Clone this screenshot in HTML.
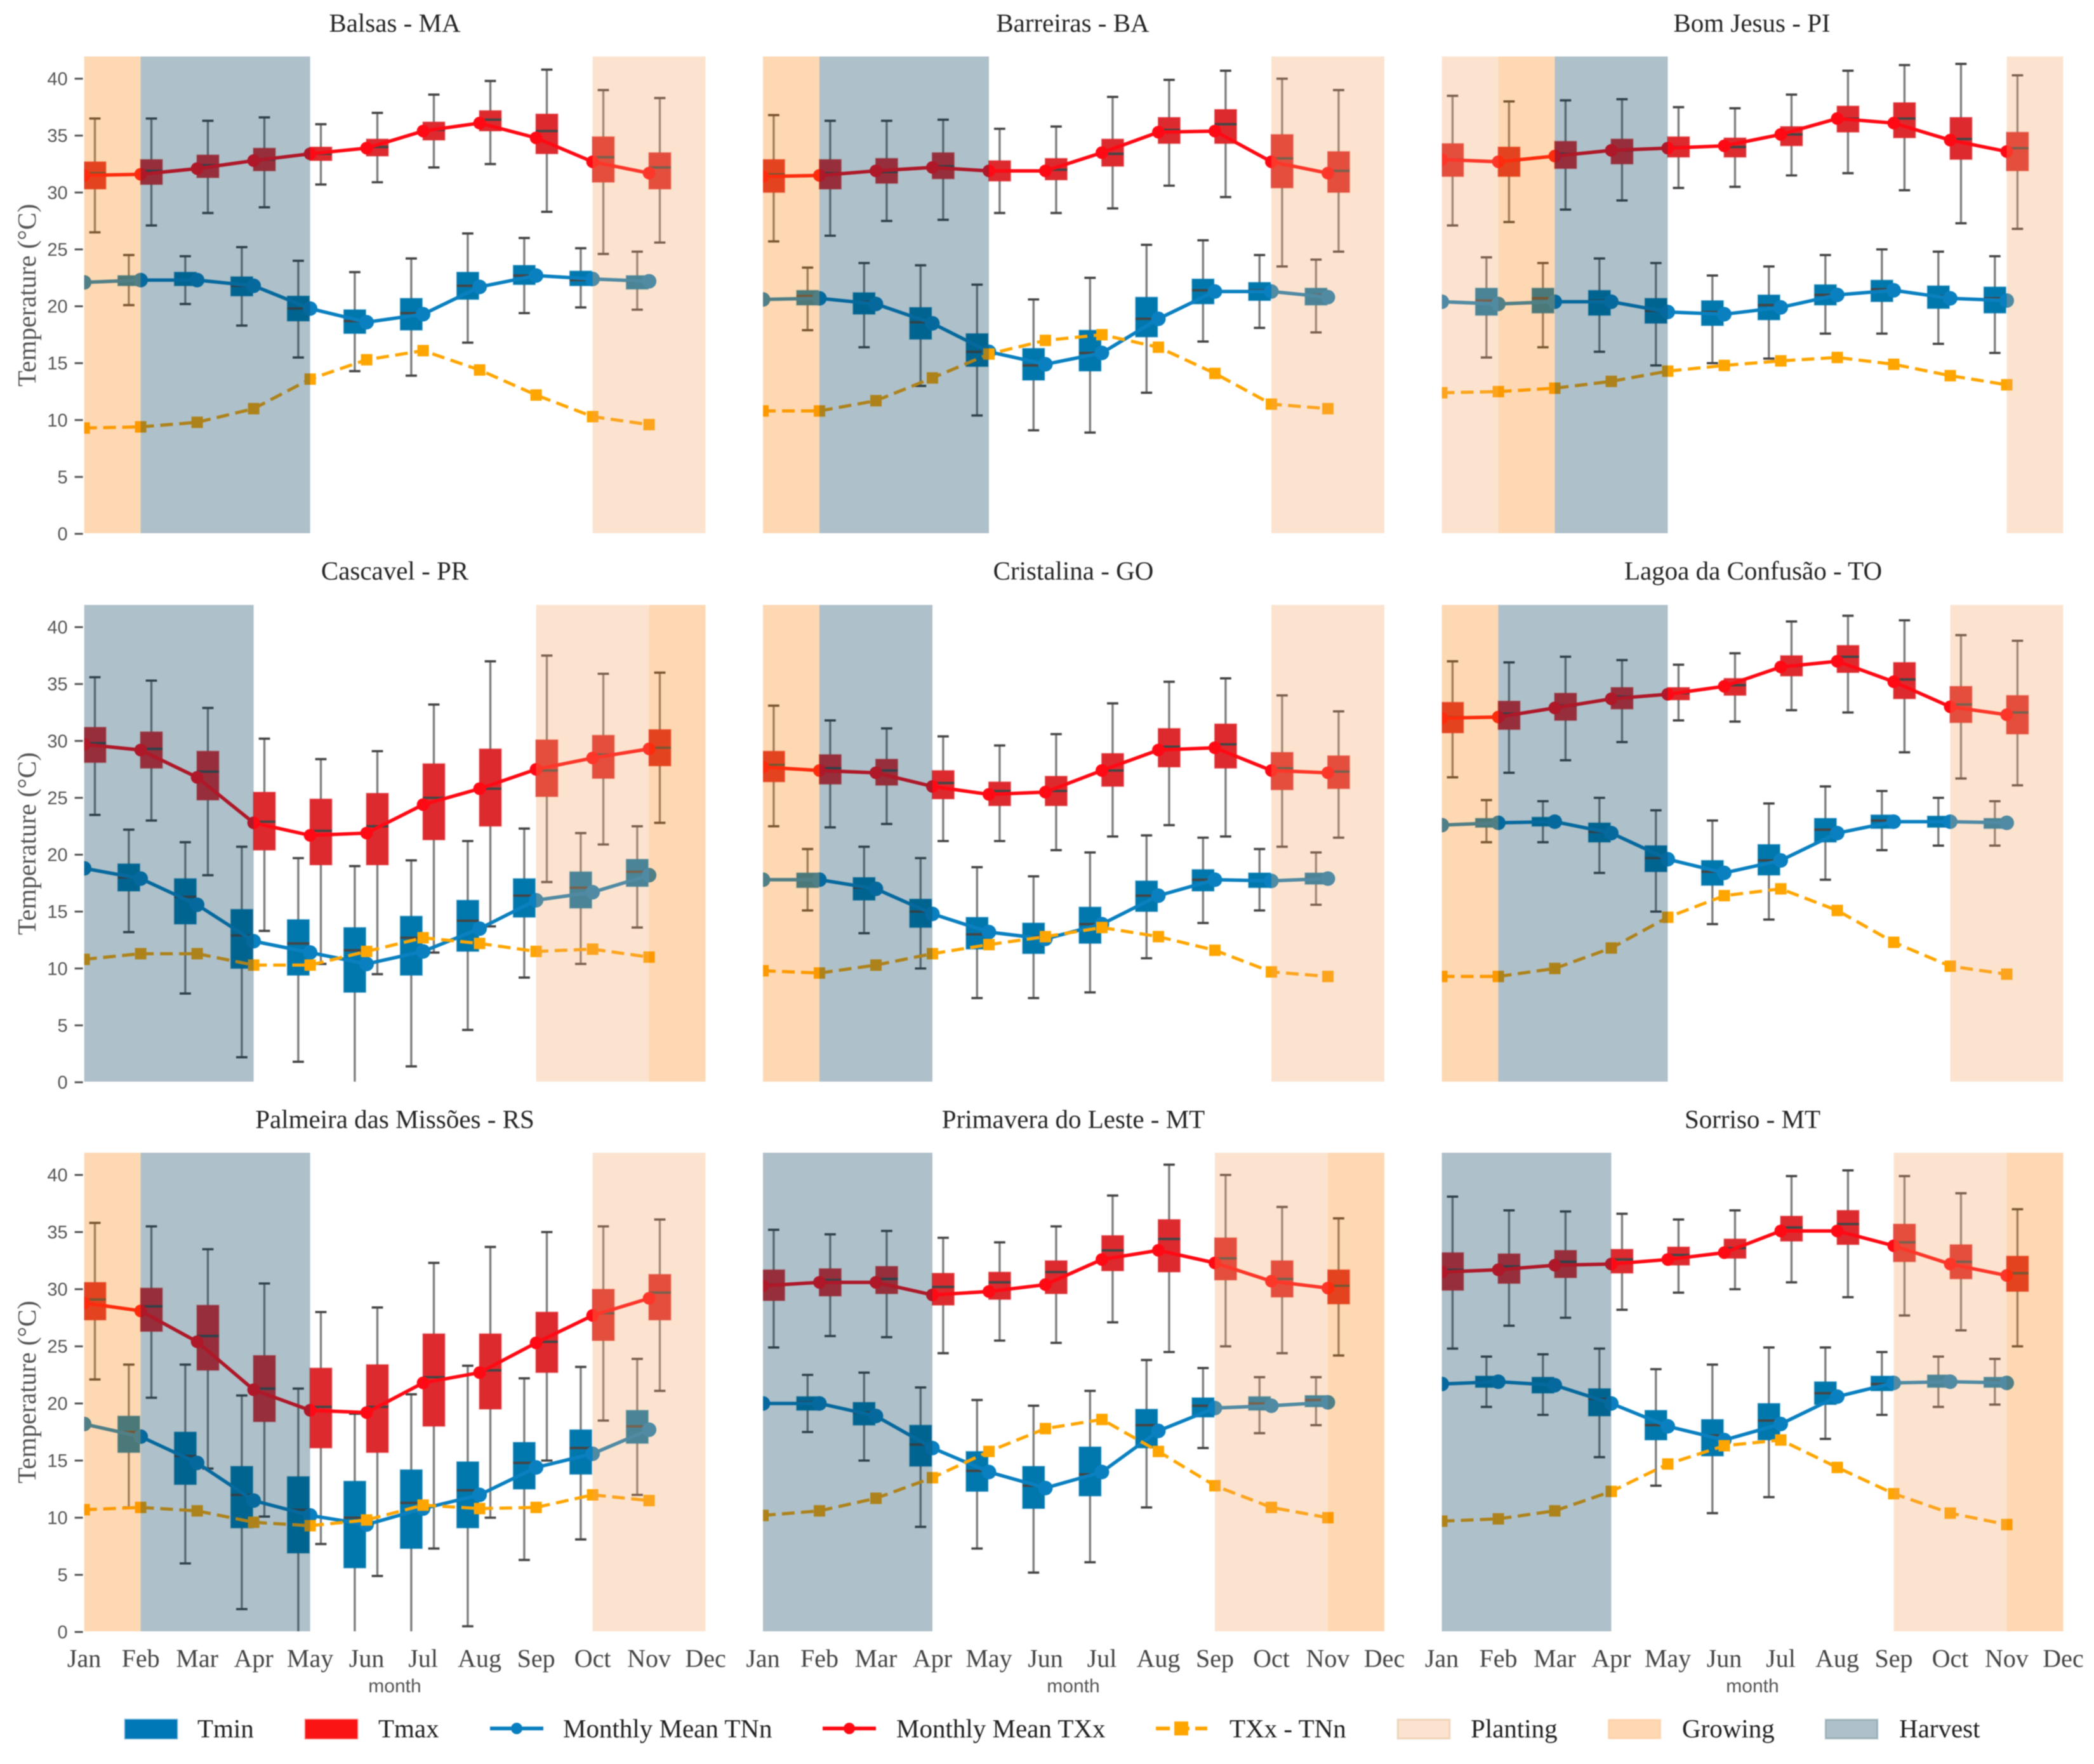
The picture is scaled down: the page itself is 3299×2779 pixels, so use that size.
<!DOCTYPE html>
<html lang="en">
<head>
<meta charset="utf-8">
<title>Monthly temperature by station</title>
<style>
html,body{margin:0;padding:0;background:#fff;}
svg{display:block;filter:blur(0.7px);}
.title{font-family:"Liberation Serif",serif;font-size:41px;fill:#262626;text-anchor:middle;}
.ytitle{font-family:"Liberation Serif",serif;font-size:41px;fill:#555;text-anchor:middle;}
.ytick{font-family:"Liberation Sans",sans-serif;font-size:29px;fill:#555;text-anchor:end;}
.xtick{font-family:"Liberation Serif",serif;font-size:40px;fill:#444;text-anchor:middle;}
.xtitle{font-family:"Liberation Sans",sans-serif;font-size:30px;fill:#555;text-anchor:middle;}
.leg{font-family:"Liberation Serif",serif;font-size:41px;fill:#222;}
</style>
</head>
<body>
<svg id="chart" xmlns="http://www.w3.org/2000/svg" width="3299" height="2779" viewBox="0 0 3299 2779">
  <rect x="0" y="0" width="3299" height="2779" fill="#ffffff"/>

  <g id="panel-balsas">
    <text class="title" x="622" y="50">Balsas - MA</text>
    <text class="ytitle" transform="translate(56 465) rotate(-90)">Temperature (°C)</text>
  </g>
  <g id="panel-barreiras">
    <text class="title" x="1690" y="50">Barreiras - BA</text>
  </g>
  <g id="panel-bomjesus">
    <text class="title" x="2760" y="50">Bom Jesus - PI</text>
  </g>
  <g id="panel-cascavel">
    <text class="title" x="622" y="913">Cascavel - PR</text>
    <text class="ytitle" transform="translate(56 1329) rotate(-90)">Temperature (°C)</text>
  </g>
  <g id="panel-cristalina">
    <text class="title" x="1691" y="913">Cristalina - GO</text>
  </g>
  <g id="panel-lagoa">
    <text class="title" x="2762" y="913">Lagoa da Confusão - TO</text>
  </g>
  <g id="panel-palmeira">
    <text class="title" x="622" y="1777">Palmeira das Missões - RS</text>
    <text class="ytitle" transform="translate(56 2193) rotate(-90)">Temperature (°C)</text>
    <text class="xtitle" x="622" y="2666">month</text>
  </g>
  <g id="panel-primavera">
    <text class="title" x="1691" y="1777">Primavera do Leste - MT</text>
    <text class="xtitle" x="1691" y="2666">month</text>
  </g>
  <g id="panel-sorriso">
    <text class="title" x="2761" y="1777">Sorriso - MT</text>
    <text class="xtitle" x="2761" y="2666">month</text>
  </g>

  <g id="legend">
    <g>
      <rect x="197" y="2709" width="82" height="30" fill="#0077b6" stroke="#0077b6" stroke-opacity=".4" stroke-width="3"/>
      <text class="leg" x="311" y="2737">Tmin</text>
    </g>
    <g>
      <rect x="481" y="2709" width="82" height="30" fill="#fb1414" stroke="#fb1414" stroke-opacity=".4" stroke-width="3"/>
      <text class="leg" x="596" y="2737">Tmax</text>
    </g>
    <g>
      <line x1="772" y1="2723" x2="856" y2="2723" stroke="#0a7fbf" stroke-width="6"/>
      <circle cx="814" cy="2723" r="9" fill="#0a7fbf"/>
      <text class="leg" x="887" y="2737">Monthly Mean TNn</text>
    </g>
    <g>
      <line x1="1296" y1="2723" x2="1380" y2="2723" stroke="#ff0a14" stroke-width="6"/>
      <circle cx="1338" cy="2723" r="9" fill="#ff0a14"/>
      <text class="leg" x="1412" y="2737">Monthly Mean TXx</text>
    </g>
    <g>
      <line x1="1821" y1="2723" x2="1902" y2="2723" stroke="#ffa500" stroke-width="6" stroke-dasharray="22 9"/>
      <rect x="1850" y="2712" width="22" height="22" fill="#ffa500"/>
      <text class="leg" x="1937" y="2737">TXx - TNn</text>
    </g>
    <g>
      <rect x="2202" y="2709" width="82" height="30" fill="#f4a261" fill-opacity=".3" stroke="#c9a060" stroke-opacity=".3" stroke-width="3"/>
      <text class="leg" x="2317" y="2737">Planting</text>
    </g>
    <g>
      <rect x="2534" y="2709" width="82" height="30" fill="#f97f00" fill-opacity=".3" stroke="#f77f00" stroke-opacity=".12" stroke-width="3"/>
      <text class="leg" x="2650" y="2737">Growing</text>
    </g>
    <g>
      <rect x="2876" y="2709" width="82" height="30" fill="#003a54" fill-opacity=".318" stroke="#003049" stroke-opacity=".2" stroke-width="3"/>
      <text class="leg" x="2992" y="2737">Harvest</text>
    </g>
  </g>
</svg>

<script>
// Shared axis labels
const months = ['Jan','Feb','Mar','Apr','May','Jun','Jul','Aug','Sep','Oct','Nov','Dec'];
const yTicks = [0,5,10,15,20,25,30,35,40];

// Box stats: [lower whisker, q1, median, q3, upper whisker], Jan..Nov
const balsasTmax = [[26.5,30.3,31.7,32.7,36.5],[27.1,30.7,31.9,32.9,36.5],[28.2,31.3,32.4,33.3,36.3],[28.7,31.9,32.9,33.9,36.6],[30.7,32.8,33.4,34,36],[30.9,33.2,34,34.7,37],[32.2,34.6,35.5,36.2,38.6],[32.5,35.4,36.4,37.2,39.8],[28.3,33.4,35.4,36.9,40.8],[24.6,30.9,33.1,34.9,39],[25.6,30.3,32.2,33.5,38.3]];
const balsasTmin = [[20,21.5,22,22.8,24.5],[20.1,21.8,22.3,22.7,24.5],[20.2,21.8,22.3,23,24.4],[18.3,20.9,21.8,22.6,25.2],[15.5,18.7,19.8,20.9,24],[14.3,17.6,18.7,19.7,23],[13.9,17.9,19.4,20.7,24.2],[16.8,20.6,21.8,23,26.4],[19.4,21.9,22.7,23.6,26],[19.9,21.8,22.3,23.1,25.1],[19.7,21.5,22.2,22.7,24.8]];
const balsasMeanTXx = [31.5,31.6,32.1,32.8,33.4,33.9,35.4,36.1,34.8,32.7,31.7];
const balsasMeanTNn = [22.1,22.3,22.3,21.8,19.8,18.6,19.3,21.7,22.7,22.4,22.2];
const balsasRange = [9.3,9.4,9.8,11,13.6,15.3,16.1,14.4,12.2,10.3,9.6];
const balsasPhases = [['growing',0,1],['harvest',1,4],['planting',9,11]];

const barreirasTmax = [[25.7,30,31.6,32.9,36.8],[26.2,30.3,31.7,32.9,36.3],[27.5,30.8,31.8,33,36.3],[27.6,31.2,32.3,33.5,36.4],[28.2,31,31.9,32.8,35.6],[28.2,31.1,32,33,35.8],[28.6,32.3,33.4,34.7,38.4],[30.6,34.3,35.5,36.6,39.9],[29.6,34.3,36,37.3,40.7],[23.5,30.4,33,35.1,40],[24.8,30,31.9,33.6,39]];
const barreirasTmin = [[18,20,20.7,21.3,23.4],[17.9,20.1,20.9,21.4,23.4],[16.4,19.3,20.4,21.2,23.8],[13,17.1,18.6,19.9,23.6],[10.4,14.7,16,17.6,21.9],[9.1,13.5,14.8,16.3,20.6],[8.9,14.3,15.9,17.9,22.5],[12.4,17.3,18.9,20.8,25.4],[16.9,20.2,21.4,22.4,25.8],[18.1,20.5,21.4,22.1,24.5],[17.7,20.1,21,21.6,24.1]];
const barreirasMeanTXx = [31.4,31.5,31.9,32.2,31.9,31.9,33.5,35.3,35.4,32.7,31.7];
const barreirasMeanTNn = [20.6,20.7,20.2,18.5,16,14.9,15.9,18.9,21.3,21.3,20.8];
const barreirasRange = [10.8,10.8,11.7,13.7,15.8,17,17.5,16.4,14.1,11.4,11];
const barreirasPhases = [['growing',0,1],['harvest',1,4],['planting',9,11]];

const bomJesusTmax = [[27.1,31.4,32.9,34.3,38.5],[27.4,31.4,32.8,34,38],[28.5,32.1,33.4,34.5,38.1],[29.3,32.5,33.7,34.7,38.2],[30.4,33.1,34,34.9,37.5],[30.5,33.1,34,34.8,37.4],[31.5,34.1,35.1,35.8,38.6],[31.7,35.3,36.5,37.6,40.7],[30.2,34.8,36.5,37.9,41.2],[27.3,32.9,34.7,36.6,41.3],[26.8,31.9,33.9,35.3,40.3]];
const bomJesusTmin = [[17,19,20.4,21,24],[15.5,19.2,20.5,21.6,24.3],[16.4,19.4,20.7,21.6,23.8],[16,19.2,20.5,21.4,24.2],[14.8,18.5,19.6,20.7,23.8],[15,18.3,19.5,20.5,22.7],[15.4,18.8,20.1,21,23.5],[17.6,20.1,21,21.9,24.5],[17.6,20.4,21.5,22.3,25],[16.7,19.8,20.9,21.8,24.8],[15.9,19.4,20.7,21.7,24.4]];
const bomJesusMeanTXx = [32.9,32.7,33.2,33.7,33.9,34.1,35.1,36.5,36.1,34.6,33.6];
const bomJesusMeanTNn = [20.4,20.2,20.4,20.4,19.5,19.3,19.9,21,21.4,20.7,20.5];
const bomJesusRange = [12.4,12.5,12.8,13.4,14.3,14.8,15.2,15.5,14.9,13.9,13.1];
const bomJesusPhases = [['planting',0,1],['growing',1,2],['harvest',2,4],['planting',10,11]];

const cascavelTmax = [[23.5,28.1,29.8,31.2,35.6],[23,27.6,29.3,30.8,35.3],[18.2,24.8,27.3,29.1,32.9],[13.3,20.4,22.9,25.5,30.2],[10.4,19.1,22.1,24.9,28.4],[9.5,19.1,22.5,25.4,29.1],[11.4,21.3,25,28,33.2],[13.7,22.5,25.8,29.3,37],[17.6,25.1,27.4,30.1,37.5],[20.9,26.7,28.8,30.5,35.9],[22.8,27.8,29.4,31,36]];
const cascavelTmin = [[14,17,18.5,20,22],[13.2,16.8,18,19.2,22.2],[7.8,13.9,16.3,17.9,21.1],[2.2,10,12.9,15.2,20.7],[1.8,9.4,12.2,14.3,19.7],[-0.2,7.9,11.6,13.6,19],[1.4,9.4,12.7,14.6,19.5],[4.6,11.5,14.2,16,21.2],[9.2,14.5,16.4,17.9,22.3],[10.4,15.3,17.1,18.5,21.9],[13.6,17.2,18.5,19.6,22.5]];
const cascavelMeanTXx = [29.7,29.2,26.8,22.8,21.7,21.9,24.4,25.8,27.5,28.5,29.3];
const cascavelMeanTNn = [18.8,17.9,15.6,12.4,11.4,10.4,11.5,13.5,16,16.7,18.2];
const cascavelRange = [10.8,11.3,11.3,10.3,10.3,11.5,12.7,12.2,11.5,11.7,11];
const cascavelPhases = [['harvest',0,3],['planting',8,10],['growing',10,11]];

const cristalinaTmax = [[22.5,26.4,27.9,29.1,33.1],[22.4,26.2,27.6,28.8,31.8],[22.7,26.1,27.4,28.4,31.1],[21.2,24.9,26.3,27.4,30.4],[21.2,24.3,25.6,26.4,29.6],[20.4,24.3,25.6,26.9,30.6],[21.6,26,27.4,28.9,33.3],[22.6,27.7,29.5,31.1,35.2],[21.6,27.6,29.7,31.5,35.5],[20.7,25.7,27.6,29,34],[21.5,25.8,27.3,28.7,32.6]];
const cristalinaTmin = [[14.5,16.5,17.8,18.5,20],[15.1,17.1,17.8,18.4,20.5],[13.1,16,17.1,18,20.7],[10,13.6,15,16.1,19.7],[7.4,11.7,13,14.5,18.9],[7.4,11.3,12.8,14,18.1],[7.9,12.2,13.9,15.4,20.2],[10.9,15,16.4,17.7,21.7],[14,16.8,17.8,18.7,21.5],[15.1,17.1,17.7,18.4,20.5],[15.6,17.4,17.9,18.4,20.2]];
const cristalinaMeanTXx = [27.7,27.4,27.2,26,25.3,25.5,27.4,29.2,29.4,27.4,27.2];
const cristalinaMeanTNn = [17.8,17.8,17,14.8,13.2,12.6,13.9,16.4,17.8,17.7,17.9];
const cristalinaRange = [9.8,9.6,10.3,11.3,12.1,12.8,13.6,12.8,11.6,9.7,9.3];
const cristalinaPhases = [['growing',0,1],['harvest',1,3],['planting',9,11]];

const lagoaTmax = [[26.8,30.7,32.1,33.4,37],[27.2,31,32.4,33.5,36.9],[28.3,31.8,33.1,34.2,37.4],[29.9,32.8,33.9,34.7,37.1],[31.8,33.6,34.2,34.7,36.7],[31.7,34,34.9,35.5,37.7],[32.7,35.7,36.6,37.5,40.5],[32.5,36,37.4,38.4,41],[29,33.7,35.4,36.9,40.6],[26.7,31.6,33.2,34.8,39.3],[26.1,30.6,32.5,34,38.8]];
const lagoaTmin = [[21,22,22.7,23.2,24.8],[21.1,22.4,22.8,23.2,24.8],[21.1,22.5,22.9,23.3,24.7],[18.4,21.1,22,22.8,25],[15,18.5,19.7,20.8,23.9],[13.9,17.3,18.5,19.5,23],[14.3,18.2,19.5,20.9,24.5],[17.8,21.1,22.2,23.2,26],[20.4,22.3,23,23.5,25.6],[20.8,22.4,22.9,23.4,25],[20.8,22.3,22.8,23.2,24.7]];
const lagoaMeanTXx = [32,32.1,32.9,33.7,34.1,34.8,36.5,37,35.2,33,32.3];
const lagoaMeanTNn = [22.6,22.8,22.9,21.9,19.6,18.4,19.5,21.9,22.9,22.9,22.8];
const lagoaRange = [9.3,9.3,10,11.8,14.5,16.4,17,15.1,12.3,10.2,9.5];
const lagoaPhases = [['growing',0,1],['harvest',1,4],['planting',9,11]];

const palmeiraTmax = [[22.1,27.3,29.1,30.6,35.8],[20.5,26.3,28.5,30.1,35.5],[14.3,22.9,25.9,28.6,33.5],[10.1,18.4,21.3,24.2,30.5],[7.7,16.1,19.7,23.1,28],[4.9,15.7,19.7,23.4,28.4],[7.3,18,22.3,26.1,32.3],[10,19.5,22.9,26.1,33.7],[15,22.7,25.4,28,35],[18.5,25.5,27.9,30,35.5],[21.1,27.3,29.7,31.3,36.1]];
const palmeiraTmin = [[10,15,18,20,23],[10.9,15.7,17.5,18.9,23.4],[6,12.9,15.4,17.5,23.4],[2,9.1,12,14.5,20.7],[-0.2,6.9,10.7,13.6,21.3],[-0.2,5.6,10,13.2,19.1],[-0.2,7.3,11.3,14.2,20.8],[0.5,9.1,12.4,14.9,23.3],[6.3,12.5,14.8,16.6,22.2],[8.1,13.8,16.1,17.7,23.2],[12,16.5,18,19.4,23.9]];
const palmeiraMeanTXx = [28.8,28.1,25.4,21.2,19.4,19.2,21.8,22.7,25.3,27.7,29.2];
const palmeiraMeanTNn = [18.2,17.1,14.8,11.5,10.2,9.4,10.8,12,14.4,15.6,17.7];
const palmeiraRange = [10.7,10.9,10.6,9.6,9.3,9.8,11.1,10.8,10.9,12,11.5];
const palmeiraPhases = [['growing',0,1],['harvest',1,4],['planting',9,11]];

const primaveraTmax = [[24.9,29,30.4,31.7,35.2],[25.9,29.4,30.8,31.8,34.8],[25.8,29.6,30.9,32,35.1],[24.4,28.6,30.2,31.4,34.5],[25.5,29.1,30.6,31.5,34.1],[25.3,29.6,31.5,32.5,35.5],[27.1,31.6,33.4,34.7,38.2],[24.5,31.5,34.4,36.1,40.9],[25,30.8,32.7,34.5,40],[24.4,29.3,30.9,32.5,37.2],[24.2,28.7,30.3,31.7,36.2]];
const primaveraTmin = [[17.5,19,20.1,21,22.5],[17.5,19.4,20.1,20.6,22.5],[15,18.1,19.2,20.1,22.7],[9.2,14.5,16.4,18.1,21.4],[7.3,12.3,14.1,15.8,20.3],[5.2,10.8,12.8,14.5,19.8],[6.1,11.9,13.8,16.2,21.1],[10.9,16.1,18.1,19.5,23.8],[16.1,18.8,19.8,20.5,23.1],[17.4,19.4,20,20.6,22.3],[18.1,19.7,20.3,20.7,22.3]];
const primaveraMeanTXx = [30.3,30.6,30.6,29.5,29.8,30.4,32.6,33.4,32.3,30.7,30.1];
const primaveraMeanTNn = [20,20,18.9,16.1,14,12.6,14,17.6,19.6,19.8,20.1];
const primaveraRange = [10.2,10.6,11.7,13.5,15.8,17.8,18.6,15.8,12.8,10.9,10];
const primaveraPhases = [['harvest',0,3],['planting',8,10],['growing',10,11]];

const sorrisoTmax = [[24.8,29.9,31.7,33.2,38.1],[26.8,30.5,32,33.1,36.9],[27.5,31,32.4,33.4,36.8],[28.2,31.4,32.6,33.5,36.6],[29.7,32.1,33,33.7,36.1],[30,32.7,33.6,34.4,36.9],[30.6,34.2,35.4,36.4,39.9],[29.3,33.9,35.7,36.9,40.4],[27.7,32.4,34.1,35.7,39.9],[26.4,30.9,32.4,33.9,38.4],[25,29.8,31.4,32.9,37]];
const sorrisoTmin = [[19,21,21.7,22.3,24],[19.7,21.4,21.9,22.4,24.1],[19,20.9,21.7,22.3,24.3],[15.3,18.9,20.4,21.3,24.8],[12.8,16.8,18.1,19.4,23],[10.4,15.4,17.2,18.6,23.4],[11.8,16.8,18.5,20,24.9],[16.9,19.9,20.9,21.9,24.9],[19,21.1,21.7,22.4,24.5],[19.7,21.4,21.9,22.5,24.1],[19.9,21.4,21.9,22.3,23.9]];
const sorrisoMeanTXx = [31.5,31.7,32.1,32.2,32.6,33.2,35.1,35.1,33.8,32.2,31.2];
const sorrisoMeanTNn = [21.7,21.9,21.6,20,18,16.8,18.2,20.6,21.8,21.9,21.8];
const sorrisoRange = [9.7,9.9,10.6,12.3,14.7,16.3,16.8,14.4,12.1,10.4,9.4];
const sorrisoPhases = [['harvest',0,3],['planting',8,10],['growing',10,11]];

const SVGNS = 'http://www.w3.org/2000/svg';
const colLefts = [132.6, 1202, 2271.5];
const rowAxes = [
  {top: 89, bottom: 840, zero: 841, forty: 124},
  {top: 953, bottom: 1704, zero: 1705, forty: 988},
  {top: 1816, bottom: 2570, zero: 2571, forty: 1851}
];
const MONTH_STEP = 979 / 11;

function node(tag, attrs, parent) {
  const el = document.createElementNS(SVGNS, tag);
  for (const k in attrs) el.setAttribute(k, attrs[k]);
  if (parent) parent.appendChild(el);
  return el;
}

function drawBox(g, stats, cx, fill, x, y, name) {
  const half = MONTH_STEP * 0.195;
  const cap = MONTH_STEP * 0.1;
  const [lo, q1, med, q3, hi] = stats;

  const whisker = node('line', {x1: cx, x2: cx, y1: y(hi), y2: y(lo), stroke: '#5a5a5a', 'stroke-opacity': 0.78, 'stroke-width': 3.4}, g);
  
  

  const capHi = node('line', {x1: cx - cap, x2: cx + cap, y1: y(hi), y2: y(hi), stroke: '#454545', 'stroke-width': 3.6}, g);
  
  

  const capLo = node('line', {x1: cx - cap, x2: cx + cap, y1: y(lo), y2: y(lo), stroke: '#454545', 'stroke-width': 3.6}, g);
  
  

  const box = node('rect', {x: cx - half, width: half * 2, y: y(q3), height: y(q1) - y(q3), fill: fill, stroke: fill, 'stroke-opacity': 0.3, 'stroke-width': 2}, g);
  
  

  const median = node('line', {x1: cx - half, x2: cx + half, y1: y(med), y2: y(med), stroke: '#454545', 'stroke-width': 3.8}, g);
  
  
}

function drawPanel(panelId, col, row, tmax, tmin, meanTXx, meanTNn, range, phases) {
  const panel = document.getElementById(panelId);
  const left = colLefts[col];
  const ax = rowAxes[row];
  const x = i => left + i * MONTH_STEP;
  const y = v => ax.zero - v * (ax.zero - ax.forty) / 40;
  const clipId = 'clip-' + panelId;

  const clip = node('clipPath', {id: clipId}, panel);
  node('rect', {x: left, y: ax.top, width: 979, height: ax.bottom - ax.top}, clip);

  const plot = node('g', {'clip-path': 'url(#' + clipId + ')'}, panel);
  
  

  tmin.forEach((s, i) => drawBox(plot, s, x(i) - MONTH_STEP * 0.21, '#0078ae', x, y, 'tmin-' + months[i].toLowerCase()));
  tmax.forEach((s, i) => drawBox(plot, s, x(i) + MONTH_STEP * 0.19, '#dc2a2f', x, y, 'tmax-' + months[i].toLowerCase()));

  const tnnLine = node('polyline', {points: meanTNn.map((v, i) => x(i) + ',' + y(v)).join(' '), fill: 'none', stroke: '#0a80c0', 'stroke-width': 5.5}, plot);
  
  
  meanTNn.forEach((v, i) => {
    const c = node('circle', {cx: x(i), cy: y(v), r: 11.5, fill: '#0a80c0'}, plot);
    
    
  });

  const txxLine = node('polyline', {points: meanTXx.map((v, i) => x(i) + ',' + y(v)).join(' '), fill: 'none', stroke: '#ff0a14', 'stroke-width': 5.5}, plot);
  
  
  meanTXx.forEach((v, i) => {
    const c = node('circle', {cx: x(i), cy: y(v), r: 10, fill: '#ff0a14'}, plot);
    
    
  });

  const rangeLine = node('polyline', {points: range.map((v, i) => x(i) + ',' + y(v)).join(' '), fill: 'none', stroke: '#ffa500', 'stroke-width': 5, 'stroke-dasharray': '20 10'}, plot);
  
  
  range.forEach((v, i) => {
    const r = node('rect', {x: x(i) - 9, y: y(v) - 9, width: 18, height: 18, fill: '#ffa500'}, plot);
    
    
  });

  const phaseStyles = {
    planting: {fill: '#f4a261', op: 0.3},
    growing: {fill: '#f97f00', op: 0.3},
    harvest: {fill: '#003a54', op: 0.318}
  };
  phases.forEach(p => {
    const st = phaseStyles[p[0]];
    const band = node('rect', {x: x(p[1]), y: ax.top, width: x(p[2]) - x(p[1]), height: ax.bottom - ax.top, fill: st.fill, 'fill-opacity': st.op}, plot);
    
    
  });

  if (col === 0) {
    yTicks.forEach(t => {
      const tick = node('line', {x1: left - 15, x2: left - 2, y1: y(t), y2: y(t), stroke: '#555', 'stroke-width': 3}, panel);
      
      
      const lab = node('text', {x: left - 26, y: y(t) + 10, class: 'ytick'}, panel);
      
      
      lab.textContent = String(t);
    });
  }
  if (row === 2) {
    months.forEach((m, i) => {
      const lab = node('text', {x: x(i), y: 2626, class: 'xtick'}, panel);
      
      
      lab.textContent = m;
    });
  }
}

drawPanel('panel-balsas', 0, 0, balsasTmax, balsasTmin, balsasMeanTXx, balsasMeanTNn, balsasRange, balsasPhases);
drawPanel('panel-barreiras', 1, 0, barreirasTmax, barreirasTmin, barreirasMeanTXx, barreirasMeanTNn, barreirasRange, barreirasPhases);
drawPanel('panel-bomjesus', 2, 0, bomJesusTmax, bomJesusTmin, bomJesusMeanTXx, bomJesusMeanTNn, bomJesusRange, bomJesusPhases);
drawPanel('panel-cascavel', 0, 1, cascavelTmax, cascavelTmin, cascavelMeanTXx, cascavelMeanTNn, cascavelRange, cascavelPhases);
drawPanel('panel-cristalina', 1, 1, cristalinaTmax, cristalinaTmin, cristalinaMeanTXx, cristalinaMeanTNn, cristalinaRange, cristalinaPhases);
drawPanel('panel-lagoa', 2, 1, lagoaTmax, lagoaTmin, lagoaMeanTXx, lagoaMeanTNn, lagoaRange, lagoaPhases);
drawPanel('panel-palmeira', 0, 2, palmeiraTmax, palmeiraTmin, palmeiraMeanTXx, palmeiraMeanTNn, palmeiraRange, palmeiraPhases);
drawPanel('panel-primavera', 1, 2, primaveraTmax, primaveraTmin, primaveraMeanTXx, primaveraMeanTNn, primaveraRange, primaveraPhases);
drawPanel('panel-sorriso', 2, 2, sorrisoTmax, sorrisoTmin, sorrisoMeanTXx, sorrisoMeanTNn, sorrisoRange, sorrisoPhases);
</script>
</body>
</html>
